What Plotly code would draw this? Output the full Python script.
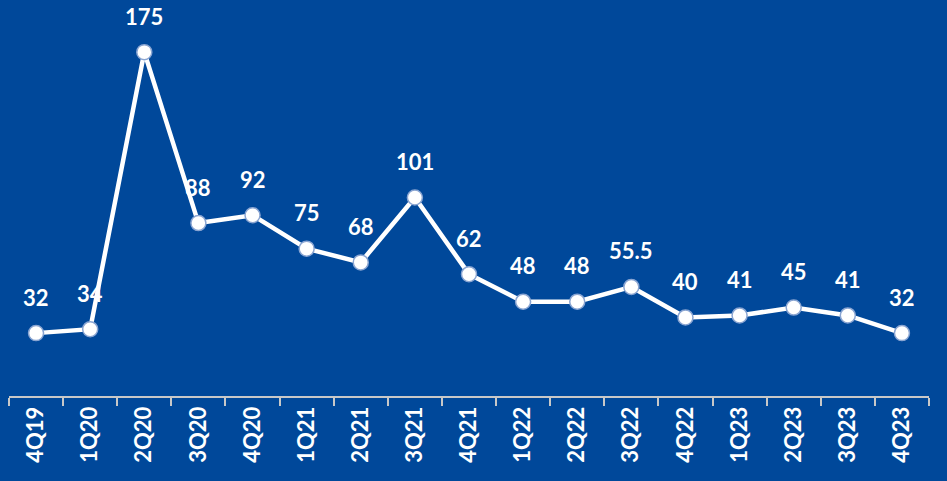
import plotly.graph_objects as go

quarters = ["4Q19", "1Q20", "2Q20", "3Q20", "4Q20", "1Q21", "2Q21", "3Q21", "4Q21",
            "1Q22", "2Q22", "3Q22", "4Q22", "1Q23", "2Q23", "3Q23", "4Q23"]
values = [32, 34, 175, 88, 92, 75, 68, 101, 62, 48, 48, 55.5, 40, 41, 45, 41, 32]
labels = ["32", "34", "175", "88", "92", "75", "68", "101", "62", "48", "48", "55.5",
          "40", "41", "45", "41", "32"]

BG = "#00489A"
FONT = "Lato"

fig = go.Figure()
fig.add_trace(go.Scatter(
    x=quarters, y=values, mode="lines+markers",
    line=dict(color="white", width=4.5),
    marker=dict(size=15, color="white", line=dict(color="#8AA5D2", width=1.5)),
    hoverinfo="skip", showlegend=False,
))

for q, v, t in zip(quarters, values, labels):
    fig.add_annotation(x=q, y=v, text=t, showarrow=False, yshift=36,
                       font=dict(family=FONT, size=22, color="white", weight="bold"))

fig.update_layout(
    width=947, height=481,
    margin=dict(l=9, r=18, t=3, b=85),
    paper_bgcolor=BG, plot_bgcolor=BG,
    xaxis=dict(type="category", tickson="boundaries", showgrid=False, zeroline=False,
               showline=True, linecolor="#C8C8C8", linewidth=2,
               ticks="outside", ticklen=8, tickcolor="#C8C8C8", tickwidth=2,
               tickangle=-90, range=[-0.5, 16.5],
               tickfont=dict(family=FONT, size=22, color="white", weight="bold")),
    yaxis=dict(range=[0, 200], visible=False, showgrid=False, zeroline=False),
)

fig.write_html("out.html", config={"displayModeBar": False},
               post_script="document.body.style.margin='0';document.body.style.background='%s';" % BG)
